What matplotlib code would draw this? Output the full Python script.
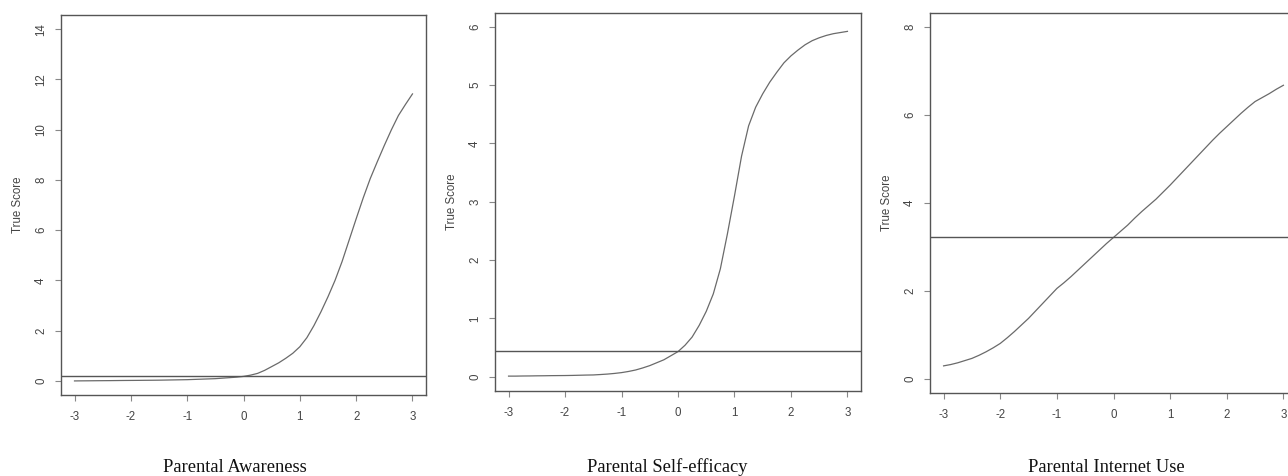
import matplotlib
matplotlib.use("Agg")
import matplotlib.pyplot as plt

# theta grid (values read every 0.125)
theta = [-3, -2.875, -2.75, -2.625, -2.5, -2.375, -2.25, -2.125,
         -2, -1.875, -1.75, -1.625, -1.5, -1.375, -1.25, -1.125,
         -1, -0.875, -0.75, -0.625, -0.5, -0.375, -0.25, -0.125,
         0, 0.125, 0.25, 0.375, 0.5, 0.625, 0.75, 0.875,
         1, 1.125, 1.25, 1.375, 1.5, 1.625, 1.75, 1.875,
         2, 2.125, 2.25, 2.375, 2.5, 2.625, 2.75, 2.875, 3]

# true score curves
awareness = [0.0, 0.003, 0.005, 0.008, 0.01, 0.012, 0.015, 0.018,
             0.02, 0.022, 0.025, 0.027, 0.03, 0.035, 0.04, 0.045,
             0.05, 0.06, 0.07, 0.08, 0.09, 0.11, 0.13, 0.15,
             0.18, 0.23, 0.3, 0.42, 0.57, 0.72, 0.9, 1.1,
             1.36, 1.72, 2.2, 2.75, 3.35, 4.0, 4.75, 5.6,
             6.45, 7.28, 8.05, 8.72, 9.37, 9.99, 10.56, 11.0, 11.42]
self_efficacy = [0.01, 0.01, 0.012, 0.013, 0.015, 0.016, 0.018, 0.019,
                 0.02, 0.022, 0.025, 0.028, 0.03, 0.037, 0.045, 0.056,
                 0.07, 0.09, 0.115, 0.15, 0.19, 0.24, 0.29, 0.36,
                 0.43, 0.54, 0.68, 0.88, 1.12, 1.42, 1.85, 2.45,
                 3.1, 3.78, 4.3, 4.62, 4.85, 5.05, 5.22, 5.38,
                 5.5, 5.6, 5.69, 5.76, 5.81, 5.85, 5.88, 5.9, 5.92]
internet_use = [0.29, 0.32, 0.36, 0.41, 0.46, 0.53, 0.61, 0.7,
                0.8, 0.93, 1.07, 1.22, 1.37, 1.54, 1.71, 1.88,
                2.05, 2.18, 2.32, 2.47, 2.62, 2.77, 2.92, 3.07,
                3.21, 3.35, 3.49, 3.65, 3.8, 3.94, 4.08, 4.24,
                4.4, 4.57, 4.74, 4.91, 5.08, 5.25, 5.42, 5.58,
                5.73, 5.88, 6.03, 6.17, 6.3, 6.39, 6.48, 6.58, 6.67]

# horizontal reference lines
cut_lines = [0.2, 0.445, 3.21]
y_max = [14, 6, 8]
y_ticks = [[0, 2, 4, 6, 8, 10, 12, 14], [0, 1, 2, 3, 4, 5, 6], [0, 2, 4, 6, 8]]
x_ticks = [-3, -2, -1, 0, 1, 2, 3]
captions = ["Parental Awareness", "Parental Self-efficacy", "Parental Internet Use"]
curves = [awareness, self_efficacy, internet_use]

W, H = 1288, 476
fig = plt.figure(figsize=(W / 100, H / 100), dpi=100)

# axes boxes in pixels: left, top, right, bottom
boxes = [(61, 15, 426, 395), (495, 12.7, 861, 390.7), (930, 12.7, 1297, 392.7)]
caption_x = [235, 667, 1106]

for i in range(3):
    l, t, r, b = boxes[i]
    ax = fig.add_axes([l / W, (H - b) / H, (r - l) / W, (b - t) / H])
    ax.plot(theta, curves[i], color="#6a6a6a", lw=0.9)
    ax.axhline(cut_lines[i], color="#555555", lw=1.0)
    ax.set_xlim(-3.24, 3.24)
    ax.set_ylim(-0.04 * y_max[i], 1.04 * y_max[i])
    ax.set_xticks(x_ticks)
    ax.set_xticklabels([str(v) for v in x_ticks])
    ax.set_yticks(y_ticks[i])
    ax.set_yticklabels([str(v) for v in y_ticks[i]], rotation=90, va="center")
    for s in ax.spines.values():
        s.set_color("#555555")
        s.set_linewidth(1.0)
    ax.tick_params(length=4.5, width=0.8, color="#888888", labelcolor="#444444",
                   labelsize=8.3)
    ax.tick_params(axis="x", pad=7)
    ax.tick_params(axis="y", pad=5.5)
    for lab in ax.get_xticklabels() + ax.get_yticklabels():
        lab.set_family("Liberation Sans")
    ax.set_ylabel("True Score", fontsize=8.3, color="#444444", family="Liberation Sans")
    ax.yaxis.set_label_coords(-0.10, 0.5)
    fig.text(caption_x[i] / W, 3.5 / H, captions[i], ha="center", va="baseline",
             fontsize=13.3, family="Liberation Serif", color="#111111")

fig.savefig("out.png", dpi=100)
